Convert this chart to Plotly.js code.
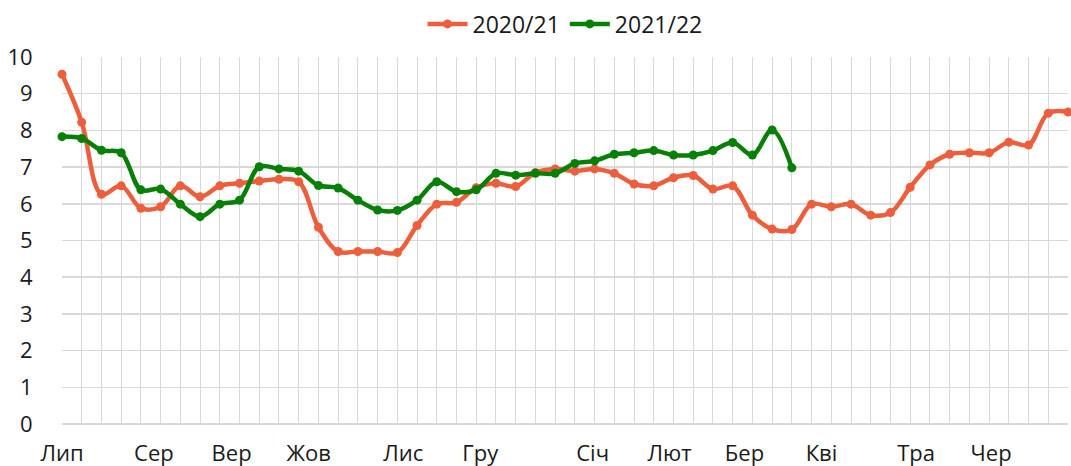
<!DOCTYPE html>
<html>
<head>
<meta charset="utf-8">
<script src="https://cdn.plot.ly/plotly-3.0.1.min.js"></script>
<style>html,body{margin:0;padding:0;background:#fff;}#chart{width:1071px;height:466px;}</style>
</head>
<body>
<div id="chart"></div>
<script>
// weekly index 0..51
const weeks = Array.from({length: 52}, (_, i) => i);
const monthLabels = ["Лип","Сер","Вер","Жов","Лис","Гру","Січ","Лют","Бер","Кві","Тра","Чер"];
const monthPositions = [0, 4.66, 8.6, 12.5, 17.3, 21.2, 26.9, 30.8, 34.6, 38.5, 43.3, 47.1];

const series2020 = [9.53, 8.22, 6.26, 6.49, 5.88, 5.92, 6.49, 6.19, 6.49, 6.56,
  6.62, 6.67, 6.60, 5.36, 4.70, 4.70, 4.70, 4.67, 5.41, 5.99,
  6.04, 6.44, 6.56, 6.47, 6.85, 6.95, 6.89, 6.95, 6.83, 6.54,
  6.49, 6.71, 6.77, 6.40, 6.49, 5.69, 5.31, 5.30, 5.99, 5.92,
  5.99, 5.69, 5.76, 6.45, 7.06, 7.35, 7.39, 7.39, 7.68, 7.60,
  8.47, 8.50];
const series2021 = [7.83, 7.78, 7.46, 7.39, 6.38, 6.40, 5.99, 5.65, 5.99, 6.10,
  7.01, 6.95, 6.89, 6.50, 6.43, 6.10, 5.83, 5.82, 6.10, 6.60,
  6.33, 6.38, 6.83, 6.78, 6.83, 6.83, 7.10, 7.17, 7.35, 7.39,
  7.45, 7.33, 7.33, 7.45, 7.67, 7.33, 8.01, 6.98];

const RED = '#EC5E3C', GREEN = '#088008';
const FONT = 'Open Sans, Lato, sans-serif';
const GRID = '#d9d9d9';

const traces = [
  {x: weeks, y: series2020, name: '2020/21', type: 'scatter', mode: 'lines+markers',
   line: {color: RED, width: 4.5, shape: 'spline', smoothing: 1}, marker: {color: RED, size: 9}, cliponaxis: false},
  {x: weeks.slice(0, series2021.length), y: series2021, name: '2021/22', type: 'scatter', mode: 'lines+markers',
   line: {color: GREEN, width: 4.5, shape: 'spline', smoothing: 1}, marker: {color: GREEN, size: 9}, cliponaxis: false}
];

const layout = {
  width: 1071, height: 466,
  margin: {l: 62, r: 3, t: 57, b: 42},
  paper_bgcolor: '#fff', plot_bgcolor: '#fff',
  font: {family: FONT, size: 21, color: '#1a1a1a'},
  showlegend: true,
  legend: {orientation: 'h', x: 0.5, xanchor: 'center', y: 1.09, yanchor: 'middle',
           font: {family: FONT, size: 23, color: '#1a1a1a'}, itemwidth: 40, tracegroupgap: 0},
  xaxis: {range: [0, 51], tickmode: 'array', tickvals: monthPositions, ticktext: monthLabels,
          tickfont: {family: FONT, size: 22, color: '#1a1a1a'},
          showgrid: false, zeroline: false, showline: false,
          ticks: 'outside', ticklen: 10, tickcolor: 'rgba(0,0,0,0)',
          minor: {tickmode: 'linear', tick0: 0, dtick: 1, showgrid: true, gridcolor: GRID, gridwidth: 1, ticks: ''},
          fixedrange: true},
  yaxis: {range: [0, 10], tickmode: 'linear', tick0: 0, dtick: 1,
          tickfont: {family: FONT, size: 22, color: '#1a1a1a'},
          showgrid: true, gridcolor: GRID, gridwidth: 1.5, zeroline: true, zerolinecolor: GRID, zerolinewidth: 1.5,
          showline: false, ticks: 'outside', ticklen: 24, tickcolor: 'rgba(0,0,0,0)', fixedrange: true}
};

Plotly.newPlot('chart', traces, layout, {displayModeBar: false, staticPlot: true});
</script>
</body>
</html>
